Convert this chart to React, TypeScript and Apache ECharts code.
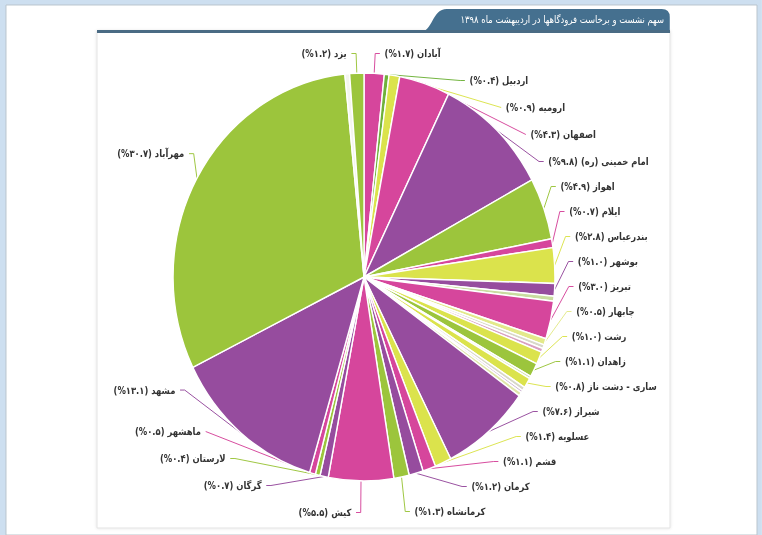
import React, { useEffect, useRef } from "react";
import * as echarts from "echarts";

const chartTitle = "سهم نشست و برخاست فرودگاهها در اردیبهشت ماه ۱۳۹۸";

// Airports in clockwise order from 12 o'clock; "سایر" = small unlabeled slices
const airports = [
  "آبادان", "اردبیل", "ارومیه", "اصفهان", "امام خمینی (ره)", "اهواز", "ایلام",
  "بندرعباس", "بوشهر", "سایر", "تبریز", "چابهار", "سایر", "سایر", "رشت",
  "زاهدان", "سایر", "ساری - دشت ناز", "سایر", "سایر", "سایر", "شیراز",
  "عسلویه", "قشم", "کرمان", "کرمانشاه", "کیش", "گرگان", "لارستان", "ماهشهر",
  "مشهد", "مهرآباد", "سایر", "یزد",
];
const shares = [
  1.7, 0.4, 0.9, 4.3, 9.8, 4.9, 0.7,
  2.8, 1.0, 0.4, 3.0, 0.5, 0.3, 0.3, 1.0,
  1.1, 0.2, 0.8, 0.3, 0.2, 0.3, 7.6,
  1.4, 1.1, 1.2, 1.3, 5.5, 0.7, 0.4, 0.5,
  13.1, 30.7, 0.4, 1.2,
];
const labeled = shares.map((_, i) => airports[i] !== "سایر");

const PINK = "#d6469c";
const GREEN = "#9cc53c";
const YELLOW = "#dbe34c";
const PURPLE = "#964c9e";
const sliceColors = [
  PINK, "#6fb23a", YELLOW, PINK, PURPLE, GREEN, PINK,
  YELLOW, PURPLE, "#c9dca0", PINK, "#e3e98a", "#d8d8c8", "#d9a0c0", YELLOW,
  GREEN, "#cfe0a8", YELLOW, "#d8d8c8", "#c9b0cf", "#e0e6a8", PURPLE,
  YELLOW, PINK, PURPLE, GREEN, PINK, PURPLE, GREEN, PINK,
  PURPLE, GREEN, "#f4f6ee", GREEN,
];

const faDigits = "۰۱۲۳۴۵۶۷۸۹";
const toFa = (v: number) => v.toFixed(1).replace(/[0-9]/g, (d) => faDigits[+d]);

// the reference is horizontally squeezed; draw wider and compress with CSS
const S = 0.936;
const W = 762 / S;
const X = (x: number) => x / S;

const tabPath = "M420 32 C433 32 432 9 447 9 L662 9 Q670 9 670 17 L670 32 Z";
const FONT = "'DejaVu Sans Condensed', 'DejaVu Sans'";

const PIE_TOP = 40;
const PIE_BOTTOM = 9;

export default function App() {
  const ref = useRef<HTMLDivElement>(null);
  useEffect(() => {
    if (!ref.current) return;
    echarts.graphic.registerShape("titleTab", echarts.graphic.extendPath(tabPath, {}) as any);
    const chart = echarts.init(ref.current, undefined, { renderer: "svg" });
    chart.setOption({
      animation: false,
      backgroundColor: "#cddff0",
      graphic: [
        { type: "rect", silent: true, z: -10, shape: { x: X(6), y: 5, width: X(751), height: 530 }, style: { fill: "#ffffff", stroke: "#b9c4cc", lineWidth: 1 } },
        { type: "rect", silent: true, z: -9, shape: { x: X(97), y: 31, width: X(573), height: 497 }, style: { fill: "#ffffff", stroke: "#e2e2e2", lineWidth: 1, shadowBlur: 3, shadowColor: "rgba(0,0,0,0.12)" } },
        { type: "titleTab", silent: true, z: -8, x: 0, y: 0, scaleX: 1 / S, scaleY: 1, style: { fill: "#45708f" } },
        { type: "rect", silent: true, z: -8, shape: { x: X(97), y: 30, width: X(573), height: 3 }, style: { fill: "#4a6b84" } },
        { type: "text", silent: true, z: -7, x: X(664), y: 19, style: { text: chartTitle, fill: "#ffffff", font: `10px ${FONT}`, align: "right", verticalAlign: "middle" } },
      ],
      series: [
        {
          type: "pie",
          left: 0,
          right: 0,
          top: PIE_TOP,
          bottom: PIE_BOTTOM,
          center: [X(364), 277 - PIE_TOP],
          radius: 204,
          startAngle: 90,
          clockwise: true,
          avoidLabelOverlap: true,
          itemStyle: { borderColor: "#ffffff", borderWidth: 1.5 },
          label: {
            show: true,
            color: "#333",
            fontSize: 10,
            fontWeight: "bold",
            fontFamily: FONT,
            lineHeight: 25,
            formatter: (p: any) => `${p.name} (${toFa(p.value)}%)`,
          },
          labelLine: { show: true, length: 20, length2: 5, lineStyle: { width: 1 } },
          data: shares.map((v, i) => ({
            name: airports[i],
            value: v,
            itemStyle: { color: sliceColors[i] },
            label: { show: labeled[i] },
            labelLine: { show: labeled[i] },
          })),
        },
      ],
    });
    return () => chart.dispose();
  }, []);
  return (
    <div style={{ position: "fixed", left: 0, top: 0, width: 762, height: 535, overflow: "hidden" }}>
      <div
        ref={ref}
        style={{ width: W, height: 535, transform: `scaleX(${S})`, transformOrigin: "0 0" }}
      />
    </div>
  );
}
